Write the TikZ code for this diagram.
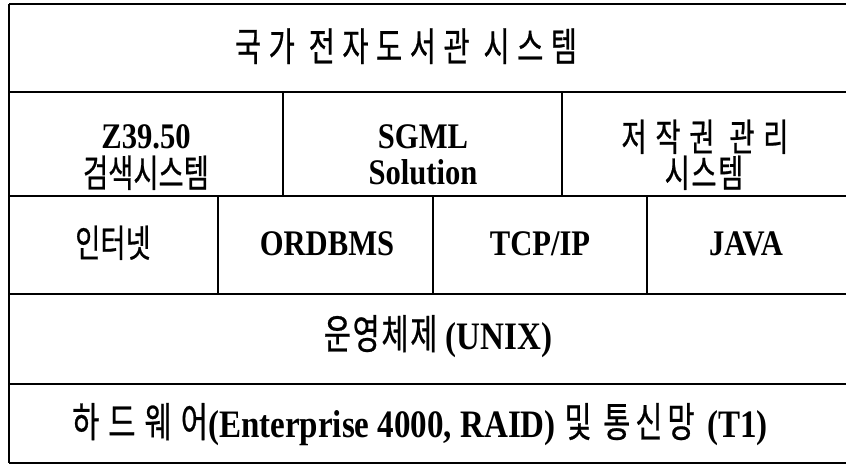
\documentclass[tikz,border=0pt]{standalone}
\usepackage{fontspec}
\setmainfont{Liberation Serif}[FakeStretch=0.85]
\newfontfamily\korfont{Noto Sans CJK KR}[FakeStretch=0.72,FakeBold=0.6]
\newcommand\kor[2][0]{{\korfont\mdseries\fontsize{38}{40}\selectfont\addfontfeature{LetterSpace=#1}#2}}
\begin{document}
\begin{tikzpicture}[x=1pt,y=-1pt,
  rule/.style={line width=1.8pt,black},
  cell/.style={inner sep=0pt,anchor=base,font=\bfseries\fontsize{36}{40}\selectfont},
  big/.style={scale=1.08,transform shape}]
\useasboundingbox (0,0) rectangle (846,465);
% rules
\draw[rule] (9,4) -- (846,4);
\draw[rule] (9,4) -- (9,463);
\foreach \yy in {92,196,294,384,463} \draw[rule] (9,\yy) -- (846,\yy);
\draw[rule] (283,92) -- (283,196);
\draw[rule] (562,92) -- (562,196);
\draw[rule] (218,196) -- (218,294);
\draw[rule] (433,196) -- (433,294);
\draw[rule] (647,196) -- (647,294);
% texts
\node[cell,scale=1.04,transform shape] (title) at (406,61) {\kor[19]{국가 전자도서관 시스템}};
\node[cell] (z1) at (146,149) {Z39.50};
\node[cell] (z2) at (146,187) {\kor{검색시스템}};
\node[cell] (s1) at (423,149) {SGML};
\node[cell] (s2) at (423,185) {Solution};
\node[cell] (c1) at (705,151) {\kor[23]{저작권 관리}};
\node[cell] (c2) at (704,187) {\kor[4]{시스템}};
\node[cell] (inet) at (113,257) {\kor{인터넷}};
\node[cell] (db) at (327,255) {ORDBMS};
\node[cell] (tcp) at (540,255) {TCP/IP};
\node[cell] (java) at (746,255) {JAVA};
\node[cell,big] (os) at (438,349) {\kor[4]{운영체제} (UNIX)};
\node[cell,big] (hw) at (420,437) {\kor[22]{하드웨어}(Enterprise 4000, RAID)\hspace{8pt}\kor[12]{및 통신망}\hspace{4pt} (T1)};
\end{tikzpicture}
\end{document}
